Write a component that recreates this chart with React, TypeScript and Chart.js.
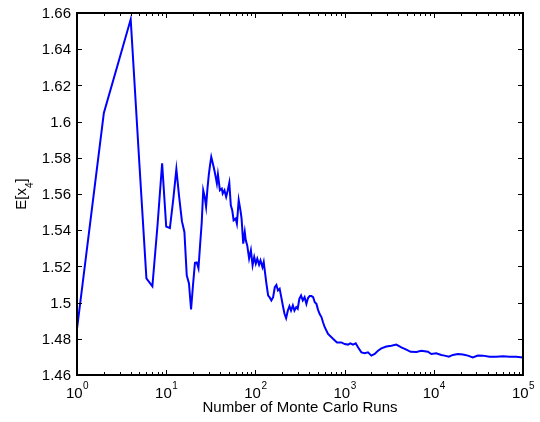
import React, { useEffect, useRef } from "react";
import { Chart, registerables } from "chart.js";

Chart.register(...registerables);

// Number of Monte Carlo runs (x) and running estimate of E[x4] (y)
const runs = [
  1, 2, 3, 4, 5, 6, 7, 8, 9, 10, 11, 12, 13, 14, 15, 16, 17, 18, 19, 20,
  21, 22, 23, 24, 25, 26, 27, 28, 29, 30, 31, 32, 34, 35, 37, 38, 40, 42, 43, 45,
  47, 49, 51, 53, 55, 57, 60, 62, 65, 68, 70, 73, 76, 78, 81, 85, 89, 93, 97, 101,
  105, 110, 114, 120, 124, 128, 133, 139, 144, 151, 158, 165, 172, 179, 187, 195, 203, 212, 221, 231,
  241, 251, 263, 274, 287, 298, 311, 325, 340, 356, 373, 389, 406, 425, 444, 463, 483, 504, 527, 550,
  574, 599, 652, 741, 822, 921, 1003, 1092, 1161, 1242, 1332, 1413, 1542, 1679, 1829, 1996, 2174, 2367, 2583, 2938,
  3342, 3802, 4325, 4920, 5500, 6367, 7244, 8590, 9377, 10667, 12135, 13212, 14762, 16361, 18610, 21170, 24083, 27396, 31165, 35453,
  42150, 50100, 59430, 70600, 83900, 100000,
];
const meanX4 = [
  1.4855, 1.6048, 1.635, 1.6565, 1.577, 1.5134, 1.509, 1.543, 1.577, 1.542, 1.5412, 1.557, 1.5737, 1.558, 1.545, 1.539, 1.515, 1.5106, 1.4962, 1.51,
  1.522, 1.5222, 1.519, 1.532, 1.544, 1.562, 1.5585, 1.553, 1.563, 1.5704, 1.576, 1.5805, 1.575, 1.5722, 1.5658, 1.5708, 1.5621, 1.563, 1.5603, 1.5621,
  1.5584, 1.5621, 1.5662, 1.5538, 1.551, 1.5455, 1.5464, 1.5436, 1.5566, 1.551, 1.5464, 1.5326, 1.539, 1.5344, 1.5316, 1.5243, 1.5289, 1.5206, 1.5252, 1.5215,
  1.5243, 1.521, 1.5233, 1.5196, 1.5224, 1.5169, 1.5104, 1.5039, 1.503, 1.5012, 1.503, 1.5085, 1.5097, 1.5067, 1.5076, 1.503, 1.4984, 1.4938, 1.4914, 1.4956,
  1.498, 1.4956, 1.4984, 1.4956, 1.4975, 1.4966, 1.5021, 1.5039, 1.5012, 1.503, 1.4993, 1.5025, 1.5036, 1.5036, 1.503, 1.5002, 1.4993, 1.496, 1.4935, 1.492,
  1.489, 1.4864, 1.4827, 1.48, 1.478, 1.478, 1.4771, 1.4768, 1.4775, 1.4768, 1.4775, 1.4753, 1.4725, 1.472, 1.4725, 1.4707, 1.4716, 1.4734, 1.4747, 1.4757,
  1.4762, 1.4768, 1.4753, 1.474, 1.4728, 1.4727, 1.4734, 1.4729, 1.4716, 1.472, 1.4711, 1.4707, 1.4701, 1.4711, 1.4716, 1.4713, 1.4707, 1.4697, 1.4708, 1.4707,
  1.4701, 1.4701, 1.4703, 1.4701, 1.4701, 1.4697,
];

const yTicks = [1.46, 1.48, 1.5, 1.52, 1.54, 1.56, 1.58, 1.6, 1.62, 1.64, 1.66];
const yTickLabels = ["1.46", "1.48", "1.5", "1.52", "1.54", "1.56", "1.58", "1.6", "1.62", "1.64", "1.66"];
const xExponents = [0, 1, 2, 3, 4, 5];
const xTitle = "Number of Monte Carlo Runs";
const yTitleMain = "E[x";
const yTitleSub = "4";
const yTitleEnd = "]";

const FONT = '"Liberation Sans", Arial, Helvetica, sans-serif';

const matlabAxes = {
  id: "matlabAxes",
  afterDraw(chart: any) {
    const { ctx, chartArea: a, scales } = chart;
    const xs = scales.x;
    const ys = scales.y;
    ctx.save();
    ctx.strokeStyle = "#000";
    ctx.fillStyle = "#000";

    // ticks (inward), 1px
    ctx.lineWidth = 1;
    ctx.beginPath();
    for (const e of xExponents) {
      const px = Math.round(xs.getPixelForValue(Math.pow(10, e))) + 0.5;
      ctx.moveTo(px, a.bottom);
      ctx.lineTo(px, a.bottom - 5);
      ctx.moveTo(px, a.top);
      ctx.lineTo(px, a.top + 5);
      if (e < xExponents[xExponents.length - 1]) {
        for (let m = 2; m <= 9; m++) {
          const mx = Math.round(xs.getPixelForValue(m * Math.pow(10, e))) + 0.5;
          ctx.moveTo(mx, a.bottom);
          ctx.lineTo(mx, a.bottom - 3);
          ctx.moveTo(mx, a.top);
          ctx.lineTo(mx, a.top + 3);
        }
      }
    }
    for (const t of yTicks) {
      const py = Math.round(ys.getPixelForValue(t)) + 0.5;
      ctx.moveTo(a.left, py);
      ctx.lineTo(a.left + 5, py);
      ctx.moveTo(a.right, py);
      ctx.lineTo(a.right - 5, py);
    }
    ctx.stroke();

    // box
    ctx.lineWidth = 2;
    ctx.strokeRect(a.left, a.top, a.right - a.left, a.bottom - a.top);

    // y tick labels
    ctx.font = `15px ${FONT}`;
    ctx.textAlign = "right";
    ctx.textBaseline = "middle";
    yTicks.forEach((t, i) => {
      ctx.fillText(yTickLabels[i], a.left - 6, ys.getPixelForValue(t) + 1);
    });

    // x tick labels: 10^e
    ctx.textAlign = "left";
    ctx.textBaseline = "alphabetic";
    for (const e of xExponents) {
      const px = xs.getPixelForValue(Math.pow(10, e));
      ctx.font = `15px ${FONT}`;
      const wb = ctx.measureText("10").width;
      ctx.font = `10px ${FONT}`;
      const we = ctx.measureText(String(e)).width;
      const x0 = px - (wb + we) / 2;
      ctx.font = `15px ${FONT}`;
      ctx.fillText("10", x0, a.bottom + 23);
      ctx.font = `10px ${FONT}`;
      ctx.fillText(String(e), x0 + wb + 0.5, a.bottom + 13.5);
    }

    // x title
    ctx.font = `15px ${FONT}`;
    ctx.textAlign = "center";
    ctx.fillText(xTitle, (a.left + a.right) / 2, a.bottom + 36.5);

    // y title with subscript
    ctx.save();
    const cy = (a.top + a.bottom) / 2;
    ctx.translate(26, cy);
    ctx.rotate(-Math.PI / 2);
    ctx.textAlign = "left";
    ctx.font = `15px ${FONT}`;
    const w1 = ctx.measureText(yTitleMain).width;
    const w3 = ctx.measureText(yTitleEnd).width;
    ctx.font = `10px ${FONT}`;
    const w2 = ctx.measureText(yTitleSub).width;
    let sx = -(w1 + w2 + w3) / 2;
    ctx.font = `15px ${FONT}`;
    ctx.fillText(yTitleMain, sx, 0);
    sx += w1;
    ctx.font = `10px ${FONT}`;
    ctx.fillText(yTitleSub, sx, 7);
    sx += w2;
    ctx.font = `15px ${FONT}`;
    ctx.fillText(yTitleEnd, sx, 0);
    ctx.restore();

    ctx.restore();
  },
};

export default function App() {
  const ref = useRef<HTMLCanvasElement | null>(null);
  useEffect(() => {
    document.body.style.margin = "0";
    const canvas = ref.current;
    if (!canvas) return;
    const chart = new Chart(canvas, {
      type: "line",
      data: {
        datasets: [
          {
            data: runs.map((n, i) => ({ x: n, y: meanX4[i] })),
            borderColor: "#0000ff",
            borderWidth: 2,
            pointRadius: 0,
            tension: 0,
            fill: false,
          },
        ],
      },
      options: {
        responsive: false,
        animation: false,
        devicePixelRatio: 1,
        layout: { padding: { left: 77, right: 17, top: 13, bottom: 47 } },
        plugins: { legend: { display: false }, tooltip: { enabled: false } },
        scales: {
          x: { type: "logarithmic", min: 1, max: 100000, display: false },
          y: { type: "linear", min: 1.46, max: 1.66, display: false },
        },
      },
      plugins: [matlabAxes],
    });
    return () => chart.destroy();
  }, []);
  return (
    <div style={{ width: 540, height: 422, background: "#fff" }}>
      <canvas ref={ref} width={540} height={422} />
    </div>
  );
}
